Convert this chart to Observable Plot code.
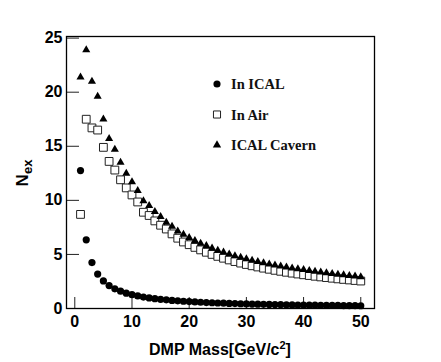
<!DOCTYPE html>
<html><head><meta charset="utf-8">
<script src="https://cdn.jsdelivr.net/npm/d3@7"></script>
<script src="https://cdn.jsdelivr.net/npm/@observablehq/plot@0.6"></script>
<style>
body{margin:0;background:#fff}
#wrap{position:relative;width:441px;height:362px}
</style>
</head><body><div id="wrap"></div>
<script>
// DMP mass (GeV/c^2)
const mass = [1,2,3,4,5,6,7,8,9,10,11,12,13,14,15,16,17,18,19,20,21,22,23,24,25,26,27,28,29,30,31,32,33,34,35,36,37,38,39,40,41,42,43,44,45,46,47,48,49,50];
// N_ex, In ICAL
const inICAL = [12.75,6.35,4.25,3.18,2.55,2.12,1.82,1.6,1.42,1.28,1.16,1.06,0.98,0.91,0.85,0.8,0.75,0.71,0.67,0.64,0.61,0.58,0.55,0.53,0.51,0.49,0.47,0.455,0.44,0.425,0.41,0.4,0.385,0.375,0.365,0.355,0.345,0.335,0.325,0.32,0.31,0.305,0.295,0.29,0.285,0.28,0.27,0.265,0.26,0.255];
// N_ex, In Air
const inAir = [8.7,17.5,16.7,16.5,14.9,13.6,12.8,11.9,11.15,10.5,9.85,8.9,8.6,8.1,7.7,7.35,6.9,6.5,6.15,5.9,5.65,5.42,5.2,5.0,4.82,4.65,4.49,4.34,4.2,4.07,3.95,3.84,3.73,3.63,3.53,3.44,3.35,3.27,3.19,3.12,3.05,2.98,2.92,2.86,2.8,2.74,2.69,2.64,2.59,2.54];
// N_ex, ICAL Cavern
const icalCavern = [21.4,23.9,21.0,19.6,17.5,15.7,14.7,13.5,12.5,11.7,10.9,9.95,9.5,8.95,8.5,7.96,7.6,7.15,6.85,6.55,6.28,6.02,5.8,5.58,5.38,5.2,5.03,4.87,4.72,4.58,4.45,4.33,4.22,4.11,4.01,3.91,3.82,3.74,3.66,3.58,3.5,3.43,3.36,3.29,3.22,3.16,3.1,3.04,2.98,2.92];
const seriesNames = ["In ICAL","In Air","ICAL Cavern"];
const xTicks = [0,10,20,30,40,50];
const yTicks = [0,5,10,15,20,25];

const toRows = (vals) => mass.map((m,i)=>({m, v: vals[i]}));
const rowsICAL = toRows(inICAL), rowsAir = toRows(inAir), rowsCav = toRows(icalCavern);

const plot = Plot.plot({
  width: 441, height: 362,
  marginLeft: 66, marginRight: 67, marginTop: 36, marginBottom: 54,
  style: {fontFamily: "'Liberation Sans', Arial, sans-serif", fontWeight: "bold", fontSize: "16px", background: "#fff", color: "#000"},
  x: {domain: [-1.45, 52.4]},
  y: {domain: [0, 25.15]},
  marks: [
    Plot.axisX(xTicks, {tickSize: 0, tickPadding: 7, label: null, fontSize: 16}),
    Plot.axisX(xTicks, {tickSize: -11, text: null, label: null, stroke: "#222"}),
    Plot.axisY(yTicks, {tickSize: 0, tickPadding: 4, label: null, fontSize: 16}),
    Plot.axisY(yTicks, {tickSize: -13, text: null, label: null, stroke: "#222"}),
    Plot.dot(rowsICAL, {x: "m", y: "v", r: 3.6, fill: "#000", symbol: "circle"}),
    Plot.dot(rowsAir, {x: "m", y: "v", r: 4.4, fill: "#fff", stroke: "#222", strokeWidth: 1, symbol: "square"}),
    Plot.dot(rowsCav, {x: "m", y: "v", r: 3.0, fill: "#000", symbol: "triangle"}),
    Plot.frame({stroke: "#000", strokeWidth: 1.3})
  ]
});
document.getElementById("wrap").appendChild(plot);

const svg = d3.select(plot);
// y label N_ex
const yl = svg.append("text")
  .attr("transform", "translate(28,173) rotate(-90)")
  .attr("text-anchor", "middle")
  .style("font-family", "'Liberation Sans', Arial, sans-serif")
  .style("font-weight", "bold").style("font-size", "17px").attr("fill", "#000");
yl.append("tspan").text("N");
yl.append("tspan").attr("dy", 4).style("font-size", "13px").text("ex");
// x label
const xl = svg.append("text")
  .attr("x", 220).attr("y", 355)
  .attr("text-anchor", "middle")
  .style("font-family", "'Liberation Sans', Arial, sans-serif")
  .style("font-weight", "bold").style("font-size", "16px").attr("fill", "#000");
xl.append("tspan").text("DMP Mass[GeV/c");
xl.append("tspan").attr("dy", -6).style("font-size", "11px").text("2");
xl.append("tspan").attr("dy", 6).text("]");

// legend
const legendSymbols = [d3.symbolCircle, d3.symbolSquare, d3.symbolTriangle];
const legendSizes = [40, 50, 30];
const lg = svg.append("g").attr("transform", "translate(217,84)");
seriesNames.forEach((name, i) => {
  const g = lg.append("g").attr("transform", `translate(0,${i*30.5})`);
  g.append("path").attr("d", d3.symbol(legendSymbols[i], legendSizes[i])())
    .attr("fill", i === 1 ? "#fff" : "#000").attr("stroke", i === 1 ? "#222" : "none");
  g.append("text").attr("x", 14).attr("y", 5).attr("text-anchor", "start").text(name)
    .style("font-family", "'Liberation Serif', 'Times New Roman', serif")
    .style("font-weight", "bold").style("font-size", "14.5px").attr("fill", "#111");
});
</script>
</body></html>
